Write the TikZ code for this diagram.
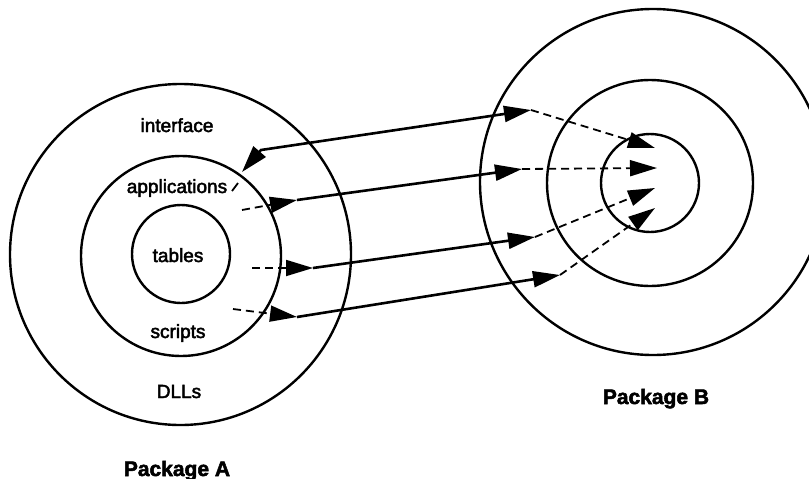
\documentclass[tikz,border=0pt]{standalone}
\usepackage{fontspec}
\setmainfont{Liberation Sans}
\newfontfamily\lblfont{Liberation Sans}[FakeBold=2.5]
\newfontfamily\pkgfont{Liberation Sans Bold}[FakeBold=2.5]
\usetikzlibrary{arrows.meta}
\tikzset{
  >={Triangle[length=27pt,width=16pt]},
  ring/.style={draw, circle, line width=2.4pt, inner sep=0pt},
  lbl/.style={anchor=base, font=\fontsize{19}{22}\lblfont},
  pkg/.style={anchor=base, font=\fontsize{21}{24}\pkgfont},
  link/.style={line width=2.6pt, ->},
  hint/.style={line width=1.8pt, dash pattern=on 8pt off 5pt, ->}
}
\begin{document}
\begin{tikzpicture}[x=1pt, y=-1pt]
        \useasboundingbox (0,0) rectangle (809,479);
        % Package A rings
        \node[ring, minimum size=341pt] (outA) at (180.5,254.5) {};
        \node[ring, minimum size=200pt] (midA) at (181,256) {};
        \node[ring, minimum size=98pt] (inA) at (181,254) {};
        \node[lbl] (iface) at (177,132) {interface};
        \node[lbl] (apps) at (177,193) {applications};
        \node[lbl] (tabs) at (178,262) {tables};
        \node[lbl] (scrs) at (178,338) {scripts};
        \node[lbl] (dlls) at (179,398) {DLLs};
        \node[pkg] (pkgA) at (177,476) {Package A};
        % Package B rings
        \node[ring, minimum size=346pt] (outB) at (653,182) {};
        \node[ring, minimum size=206pt] (midB) at (650,183) {};
        \node[ring, minimum size=98pt] (inB) at (650,183) {};
        \node[pkg] (pkgB) at (656,404) {Package B};
        % arrow points
        \coordinate (m1) at (238,183); \coordinate (n1) at (232,191);
        \coordinate (l1) at (242,172); \coordinate (k1) at (261,150);
        \coordinate (r1) at (531,110); \coordinate (t1) at (655,148);
        \coordinate (s2) at (242,210); \coordinate (l2) at (297,200);
        \coordinate (r2) at (522,169); \coordinate (t2) at (657,168);
        \coordinate (s3) at (252,268); \coordinate (l3) at (313,268);
        \coordinate (r3) at (535,237); \coordinate (t3) at (655,188);
        \coordinate (s4) at (233,309); \coordinate (l4) at (297,317);
        \coordinate (r4) at (560,275); \coordinate (t4) at (655,208);
        % top link points both ways
        \draw[line width=1.8pt] (m1) -- (n1);
        \draw[link, <->] (r1) -- (k1) -- (l1);
        \draw[hint] (r1) -- (t1);
        \foreach \i in {2,3,4}
        {
            \draw[hint] (s\i) -- (l\i);
            \draw[link] (l\i) -- (r\i);
            \draw[hint] (r\i) -- (t\i);
        }
    \end{tikzpicture}
\end{document}
